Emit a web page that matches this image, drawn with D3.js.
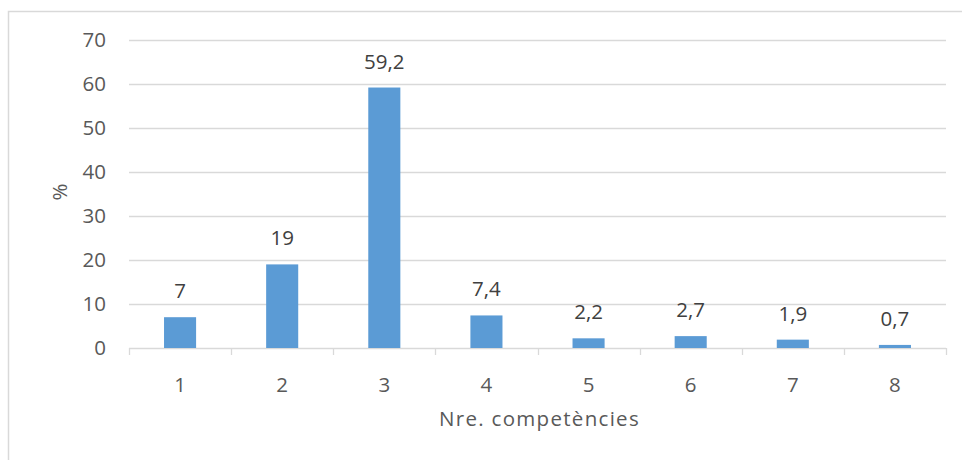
<!DOCTYPE html>
<html>
<head>
<meta charset="utf-8">
<script src="https://cdn.jsdelivr.net/npm/d3@7"></script>
<style>
  body { margin: 0; background: #fff; }
  svg text { font-family: "Open Sans", sans-serif; fill: #595959; }
</style>
</head>
<body>
<svg width="962" height="460"></svg>
<script>
const categories = ["1", "2", "3", "4", "5", "6", "7", "8"];
const values = [7, 19, 59.2, 7.4, 2.2, 2.7, 1.9, 0.7];
const yTicks = [0, 10, 20, 30, 40, 50, 60, 70];
const xTitle = "Nre. competències";
const yTitle = "%";

const svg = d3.select("svg");
const margin = { top: 40, right: 16, bottom: 112, left: 129 };
const width = +svg.attr("width") - margin.left - margin.right;
const height = +svg.attr("height") - margin.top - margin.bottom;

// outer frame
svg.append("rect")
  .attr("x", 8.5).attr("y", 11.5)
  .attr("width", 970).attr("height", 470)
  .attr("fill", "none")
  .attr("stroke", "#d9d9d9")
  .attr("stroke-width", 1.5);

const chart = svg.append("g")
  .attr("transform", `translate(${margin.left},${margin.top})`);

const x = d3.scaleBand()
  .domain(categories)
  .range([0, width])
  .paddingInner(0.686)
  .paddingOuter(0.343);

const y = d3.scaleLinear()
  .domain([0, 70])
  .range([height, 0]);

// gridlines
chart.append("g")
  .selectAll("line")
  .data(yTicks.filter(d => d > 0))
  .enter().append("line")
  .attr("x1", 0).attr("x2", width)
  .attr("y1", d => Math.round(y(d)) + 0.5)
  .attr("y2", d => Math.round(y(d)) + 0.5)
  .attr("stroke", "#d9d9d9")
  .attr("stroke-width", 1.3);

// y tick labels
chart.append("g")
  .selectAll("text")
  .data(yTicks)
  .enter().append("text")
  .attr("x", -23)
  .attr("y", d => y(d))
  .attr("dy", "0.35em")
  .attr("text-anchor", "end")
  .style("font-size", "20.5px")
  .text(d => d);

// x axis line + ticks at band boundaries
chart.append("line")
  .attr("x1", 0).attr("x2", width)
  .attr("y1", height + 0.5).attr("y2", height + 0.5)
  .attr("stroke", "#d9d9d9")
  .attr("stroke-width", 1.3);

chart.append("g")
  .selectAll("line")
  .data(d3.range(categories.length + 1))
  .enter().append("line")
  .attr("x1", i => Math.round(i * width / categories.length) + 0.5)
  .attr("x2", i => Math.round(i * width / categories.length) + 0.5)
  .attr("y1", height).attr("y2", height + 7)
  .attr("stroke", "#d9d9d9")
  .attr("stroke-width", 1.3);

// x tick labels
chart.append("g")
  .selectAll("text")
  .data(categories)
  .enter().append("text")
  .attr("x", d => x(d) + x.bandwidth() / 2)
  .attr("y", height + 37)
  .attr("dy", "0.35em")
  .attr("text-anchor", "middle")
  .style("font-size", "20.5px")
  .text(d => d);

// bars
chart.selectAll("rect.bar")
  .data(values)
  .enter().append("rect")
  .attr("class", "bar")
  .attr("x", (d, i) => x(categories[i]))
  .attr("y", d => y(d))
  .attr("width", x.bandwidth())
  .attr("height", d => height - y(d))
  .attr("fill", "#5b9bd5");

// value labels
const fmt = d => String(d).replace(".", ",");
chart.selectAll("text.val")
  .data(values)
  .enter().append("text")
  .attr("class", "val")
  .attr("x", (d, i) => x(categories[i]) + x.bandwidth() / 2)
  .attr("y", d => y(d) - 19)
  .attr("text-anchor", "middle")
  .style("font-size", "20.5px")
  .style("fill", "#404040")
  .text(fmt);

// axis titles
chart.append("text")
  .attr("x", width / 2 + 2)
  .attr("y", height + 71)
  .attr("dy", "0.35em")
  .attr("text-anchor", "middle")
  .style("font-size", "20.5px")
  .style("letter-spacing", "1.3px")
  .text(xTitle);

chart.append("text")
  .attr("transform", `translate(${60 - margin.left},${192 - margin.top}) rotate(-90)`)
  .attr("dy", "0.35em")
  .attr("text-anchor", "middle")
  .style("font-size", "20.5px")
  .text(yTitle);
</script>
</body>
</html>
